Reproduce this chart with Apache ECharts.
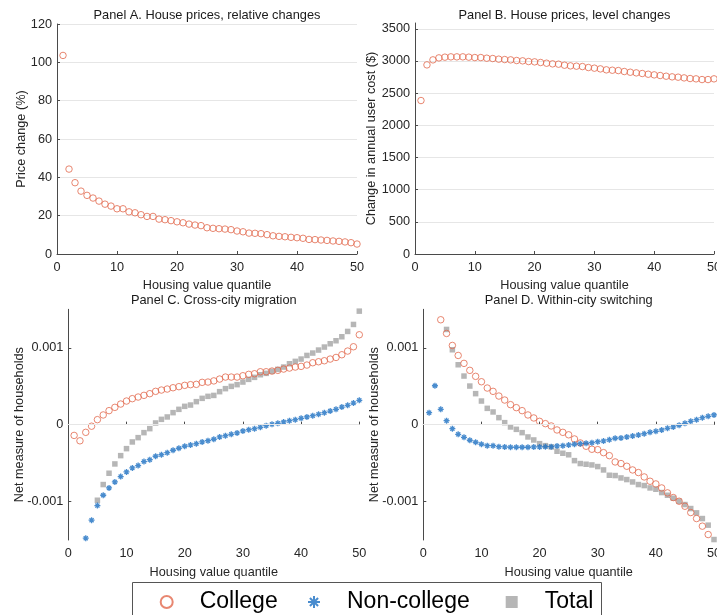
<!DOCTYPE html>
<html>
<head>
<meta charset="utf-8">
<script src="https://cdn.jsdelivr.net/npm/echarts@6/dist/echarts.min.js"></script>
<style>
  html, body { margin: 0; padding: 0; background: #fff; }
  #chart { width: 717px; height: 615px; }
</style>
</head>
<body>
<div id="chart"></div>
<script>
var quantiles = [1, 2, 3, 4, 5, 6, 7, 8, 9, 10, 11, 12, 13, 14, 15, 16, 17, 18, 19, 20,
  21, 22, 23, 24, 25, 26, 27, 28, 29, 30, 31, 32, 33, 34, 35, 36, 37, 38, 39, 40,
  41, 42, 43, 44, 45, 46, 47, 48, 49, 50]

// Panel A: price change (%)
var priceChangePct = [103.6, 44.3, 37.2, 32.8, 30.6, 29.2, 27.6, 26.0, 25.0, 23.6,
  23.6, 22.0, 21.5, 20.5, 19.6, 19.6, 18.2, 17.9, 17.4, 16.8,
  16.3, 15.6, 15.1, 14.8, 13.7, 13.4, 13.2, 13.0, 12.7, 12.0,
  11.6, 10.9, 10.8, 10.6, 10.1, 9.5, 9.2, 9.0, 8.7, 8.5,
  8.2, 7.6, 7.5, 7.3, 7.1, 6.8, 6.6, 6.3, 5.9, 5.2]

// Panel B: change in annual user cost ($)
var userCostChange = [2385, 2939, 3017, 3048, 3059, 3064, 3064, 3064, 3059, 3053,
  3053, 3043, 3038, 3028, 3022, 3017, 3007, 3002, 2991, 2986,
  2976, 2965, 2955, 2950, 2934, 2924, 2919, 2913, 2898, 2888,
  2877, 2862, 2856, 2851, 2836, 2825, 2815, 2805, 2794, 2784,
  2774, 2763, 2753, 2748, 2737, 2727, 2722, 2711, 2711, 2722]

// Panel C: cross-city migration (null = outside the plotted range)
var migrationCollege = [-0.00014, -0.00021, -0.00010, -0.00002, 0.000065, 0.000126, 0.000182, 0.000225, 0.000268, 0.000307,
  0.000338, 0.000359, 0.000381, 0.000403, 0.000433, 0.00045, 0.000463, 0.00048, 0.000494, 0.000511,
  0.00052, 0.000524, 0.00055, 0.000554, 0.000569, 0.000593, 0.000619, 0.000619, 0.000619, 0.000636,
  0.000654, 0.000662, 0.000688, 0.000688, 0.000697, 0.000706, 0.000723, 0.000736, 0.000749, 0.000758,
  0.000775, 0.000805, 0.000818, 0.000831, 0.000853, 0.000874, 0.000909, 0.000957, 0.001013, 0.001169]
var migrationNonCollege = [null, null, -0.001476, -0.001242, -0.001052, -0.000918, -0.000823, -0.000745, -0.000675, -0.000615,
  -0.000563, -0.000532, -0.00048, -0.000455, -0.000411, -0.00039, -0.000364, -0.000333, -0.000307, -0.000281,
  -0.000264, -0.000247, -0.000225, -0.000208, -0.00019, -0.00016, -0.000143, -0.000126, -0.000108, -0.000082,
  -0.000065, -0.000052, -0.000035, -0.000013, 0.000004, 0.000017, 0.000035, 0.000052, 0.000065, 0.000082,
  0.0001, 0.000117, 0.000134, 0.000156, 0.000177, 0.000199, 0.000229, 0.000251, 0.000281, 0.000316]
var migrationTotal = [null, null, null, null, -0.000983, -0.000779, -0.000632, -0.000511, -0.000403, -0.000312,
  -0.000225, -0.000169, -0.000104, -0.000052, 0.000022, 0.000069, 0.0001, 0.000156, 0.000199, 0.000238,
  0.000255, 0.000299, 0.000342, 0.000368, 0.00038, 0.000429, 0.000468, 0.000498, 0.00052, 0.000554,
  0.000589, 0.000615, 0.000649, 0.000667, 0.000693, 0.000719, 0.000749, 0.000792, 0.000823, 0.000853,
  0.0009, 0.000931, 0.00097, 0.001009, 0.001052, 0.001091, 0.001143, 0.001212, 0.001303, 0.001476]

// Panel D: within-city switching
var switchingCollege = [null, null, 0.001364, 0.001186, 0.00103, 0.0009, 0.000797, 0.000706, 0.000628, 0.000558,
  0.000476, 0.000433, 0.000372, 0.00032, 0.00026, 0.000221, 0.000182, 0.000126, 0.000087, 0.000043,
  0.000013, -0.000017, -0.000069, -0.0001, -0.000132, -0.000186, -0.000238, -0.000281, -0.00032, -0.000325,
  -0.000364, -0.000403, -0.000485, -0.000506, -0.000541, -0.000589, -0.000623, -0.00068, -0.000736, -0.000771,
  -0.000823, -0.000887, -0.000948, -0.000996, -0.001061, -0.001143, -0.001221, -0.00132, -0.001429, null]
var switchingNonCollege = [0.000156, 0.000506, 0.000199, 0.000052, -0.000052, -0.000126, -0.000165, -0.000203, -0.000229, -0.000255,
  -0.000273, -0.000273, -0.000286, -0.00029, -0.000294, -0.000294, -0.000294, -0.000294, -0.00029, -0.00029,
  -0.000286, -0.000286, -0.000277, -0.000273, -0.000264, -0.000255, -0.000247, -0.000242, -0.000234, -0.000221,
  -0.000212, -0.000195, -0.000177, -0.000173, -0.00016, -0.000147, -0.000134, -0.000117, -0.0001, -0.000087,
  -0.000069, -0.000048, -0.00003, -0.000009, 0.000017, 0.000043, 0.000065, 0.000091, 0.000108, 0.000126]
var switchingTotal = [null, null, null, 0.001238, 0.000974, 0.000779, 0.000632, 0.000502, 0.000403, 0.000307,
  0.000212, 0.000165, 0.000091, 0.000026, -0.00003, -0.000061, -0.000104, -0.00016, -0.000199, -0.000247,
  -0.000273, -0.00029, -0.000346, -0.000372, -0.000392, -0.000468, -0.000506, -0.000515, -0.000524, -0.000545,
  -0.000589, -0.000658, -0.000662, -0.000693, -0.000714, -0.000745, -0.000779, -0.000792, -0.000823, -0.00084,
  -0.000883, -0.000918, -0.000957, -0.000996, -0.001039, -0.001091, -0.001147, -0.001221, -0.001307, -0.001494]

var panelTitles = ['Panel A. House prices, relative changes', 'Panel B. House prices, level changes',
  'Panel C. Cross-city migration', 'Panel D. Within-city switching']
var seriesNames = ['College', 'Non-college', 'Total']
var netTicks = [-0.001, 0, 0.001]

var FONT = '"Liberation Sans", Arial, Helvetica, sans-serif'
var collegeColor = '#E2694D'
var nonCollegeColor = '#1B6FC2'
var totalColor = '#A4A4A4'
var axisColor = '#4a4a4a'
var gridColor = '#e6e6e6'
var starPath = 'path://M5,0L5,10M0,5L10,5M1.6,1.6L8.4,8.4M8.4,1.6L1.6,8.4'
var squarePath = 'path://M0,0L10,0L10,10L0,10Z'

function pairs (values) {
  var out = []
  for (var i = 0; i < quantiles.length; i++) {
    if (values[i] !== null) out.push([quantiles[i], values[i]])
  }
  return out
}

var grids = [
  { left: 57, top: 24, width: 300, height: 230 },
  { left: 415, top: 23, width: 299, height: 231 },
  { left: 68.3, top: 309.3, width: 291, height: 230.7 },
  { left: 423.3, top: 309.3, width: 290.7, height: 230.7 }
]
grids.forEach(function (g) { g.outerBoundsMode = 'none' })

function xAxisFor (idx, gap) {
  return {
    type: 'value', gridIndex: idx, min: 0, max: 50, interval: 10,
    name: 'Housing value quantile', nameLocation: 'middle', nameGap: gap, nameMoveOverlap: false,
    nameTextStyle: { fontFamily: FONT, fontSize: 12.7, color: '#262626' },
    axisLine: { lineStyle: { color: axisColor, width: 1 } },
    axisTick: { show: true, inside: true, length: 3, lineStyle: { color: axisColor } },
    axisLabel: { margin: 7, fontFamily: FONT, fontSize: 12.7, color: '#262626' },
    splitLine: { show: false }
  }
}

function yAxisBase (idx, name, gap) {
  return {
    type: 'value', gridIndex: idx,
    name: name, nameLocation: 'middle', nameGap: gap, nameMoveOverlap: false,
    nameTextStyle: { fontFamily: FONT, fontSize: 12.7, color: '#262626' },
    axisLine: { show: true, lineStyle: { color: axisColor, width: 1 } },
    axisTick: { show: true, inside: true, length: 3, lineStyle: { color: axisColor } },
    axisLabel: { margin: 5, fontFamily: FONT, fontSize: 12.7, color: '#262626' },
    splitLine: { show: true, lineStyle: { color: gridColor, width: 1 } }
  }
}

var yA = yAxisBase(0, 'Price change (%)', 29)
yA.min = 0; yA.max = 120; yA.interval = 20

var yB = yAxisBase(1, 'Change in annual user cost ($)', 37)
yB.min = 0; yB.max = 3590; yB.interval = 500
yB.axisLabel.showMaxLabel = false
yB.axisLabel.formatter = function (v) { return String(v) }
yB.splitLine.showMaxLine = false

function netAxis (idx) {
  var y = yAxisBase(idx, 'Net measure of households', 42)
  y.min = -0.0015; y.max = 0.0015; y.interval = 0.0005
  y.splitLine = { show: false }
  y.axisTick.customValues = netTicks
  y.axisLabel.customValues = netTicks
  y.axisLabel.formatter = function (v) {
    if (Math.abs(v) < 1e-9) return '0'
    if (Math.abs(Math.abs(v) - 0.001) < 1e-9) return v < 0 ? '-0.001' : '0.001'
    return ''
  }
  return y
}

function collegeSeries (idx, values) {
  return {
    name: 'College', type: 'scatter', xAxisIndex: idx, yAxisIndex: idx, z: 3,
    symbol: 'circle', symbolSize: 6.5, clip: true,
    itemStyle: { color: 'rgba(255,255,255,0)', borderColor: collegeColor, borderWidth: 1 },
    data: pairs(values)
  }
}
function nonCollegeSeries (idx, values) {
  return {
    name: 'Non-college', type: 'scatter', xAxisIndex: idx, yAxisIndex: idx, z: 4,
    symbol: starPath, symbolSize: 6, clip: true,
    itemStyle: { color: nonCollegeColor, borderColor: nonCollegeColor, borderWidth: 1.3 },
    data: pairs(values)
  }
}
function totalSeries (idx, values) {
  return {
    name: 'Total', type: 'scatter', xAxisIndex: idx, yAxisIndex: idx, z: 2,
    symbol: squarePath, symbolSize: 5.5, clip: true,
    itemStyle: { color: totalColor },
    data: pairs(values)
  }
}
function gridLines (idx) {
  return {
    type: 'scatter', xAxisIndex: idx, yAxisIndex: idx, z: 1, silent: true, data: [],
    markLine: {
      silent: true, symbol: 'none', animation: false,
      label: { show: false },
      lineStyle: { color: gridColor, width: 1, type: 'solid' },
      data: netTicks.map(function (t) { return { yAxis: t } })
    }
  }
}

var titleCenters = [[207, 15], [564.5, 15], [213.8, 300], [568.7, 300]]
var graphics = panelTitles.map(function (t, i) {
  return {
    type: 'text', x: titleCenters[i][0], y: titleCenters[i][1], silent: true,
    style: { text: t, align: 'center', verticalAlign: 'middle', fontFamily: FONT, fontSize: 12.8, fill: '#1a1a1a' }
  }
})
// legend frame
graphics.push({
  type: 'rect', silent: true, z: -1,
  shape: { x: 132.5, y: 582.5, width: 469, height: 50 },
  style: { fill: '#fff', stroke: '#555', lineWidth: 1 }
})

var legendLefts = [159.7, 307, 505.7]
var legends = seriesNames.map(function (name, i) {
  return {
    data: [name],
    left: legendLefts[i], top: 590,
    padding: 0,
    itemWidth: 12, itemHeight: 12,
    selectedMode: false,
    textStyle: { fontFamily: FONT, fontSize: 23, lineHeight: 24, color: '#000', padding: [0, 0, 0, 22] }
  }
})

var option = {
  animation: false,
  backgroundColor: '#fff',
  textStyle: { fontFamily: FONT },
  grid: grids,
  xAxis: [xAxisFor(0, 25), xAxisFor(1, 25), xAxisFor(2, 26), xAxisFor(3, 26)],
  yAxis: [yA, yB, netAxis(2), netAxis(3)],
  graphic: graphics,
  legend: legends,
  series: [
    collegeSeries(0, priceChangePct),
    collegeSeries(1, userCostChange),
    gridLines(2),
    totalSeries(2, migrationTotal),
    collegeSeries(2, migrationCollege),
    nonCollegeSeries(2, migrationNonCollege),
    gridLines(3),
    totalSeries(3, switchingTotal),
    collegeSeries(3, switchingCollege),
    nonCollegeSeries(3, switchingNonCollege)
  ]
}

var chart = echarts.init(document.getElementById('chart'), null, { renderer: 'canvas' })
chart.setOption(option)
</script>
</body>
</html>
